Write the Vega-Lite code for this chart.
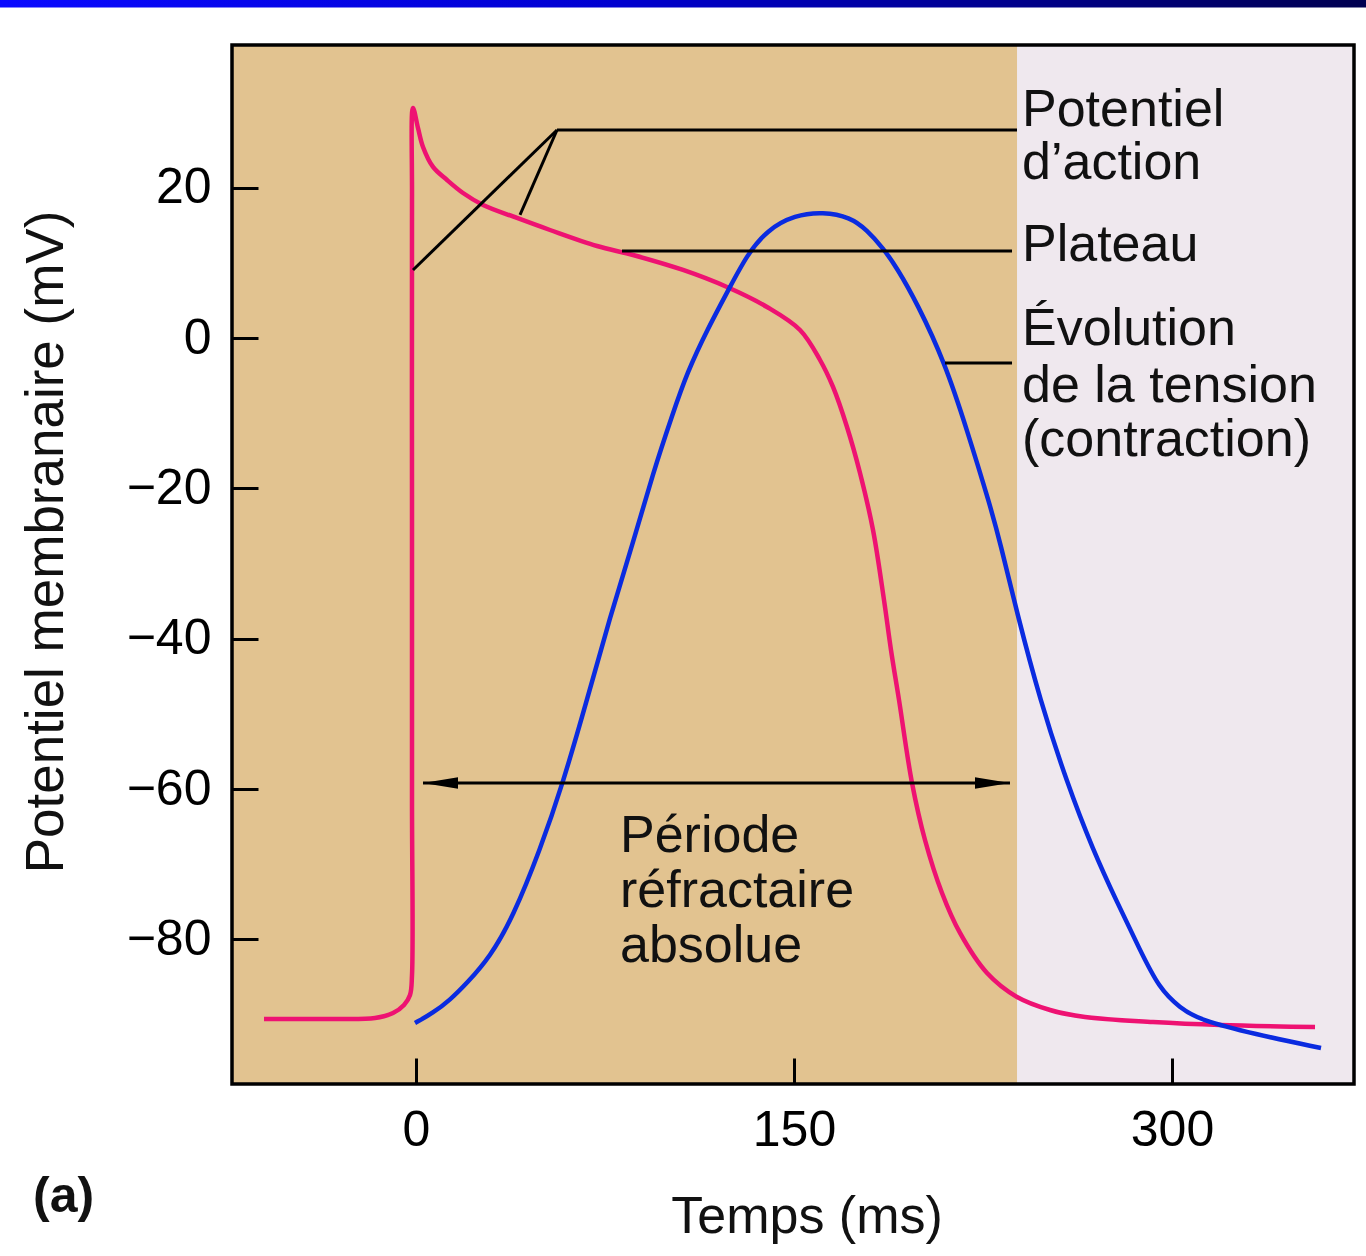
{
  "$schema": "https://vega.github.io/schema/vega-lite/v6.json",
  "width": 1122,
  "height": 1039,
  "autosize": {"type": "none"},
  "padding": {"left": 232, "top": 45, "right": 12, "bottom": 172},
  "background": "#ffffff",
  "config": {
    "view": {"fill": "#efe8ee", "stroke": null},
    "axis": {
      "labelFont": "Liberation Sans",
      "titleFont": "Liberation Sans",
      "labelColor": "#000000",
      "titleColor": "#111111",
      "titleFontWeight": "normal",
      "grid": false,
      "domain": false,
      "tickColor": "#000000",
      "tickWidth": 3,
      "tickSize": -26
    }
  },
  "datasets": {
    "zones": [
      {"zone": "fond", "t": -73.02, "t2": 238.5, "v": -99.25, "v2": 39.02}
    ],
    "potentiel": [
      {"t": -60.32, "v": -90.60}, {"t": -34.13, "v": -90.60}, {"t": -16.27, "v": -90.47},
      {"t": -9.13, "v": -89.81}, {"t": -4.76, "v": -88.74}, {"t": -2.38, "v": -87.41},
      {"t": -1.59, "v": -84.75}, {"t": -1.59, "v": -61.46}, {"t": -1.59, "v": -21.52},
      {"t": -1.59, "v": 18.39}, {"t": -1.19, "v": 30.64}, {"t": 0.79, "v": 27.97},
      {"t": 2.78, "v": 25.45}, {"t": 6.75, "v": 22.79}, {"t": 12.30, "v": 21.05},
      {"t": 18.65, "v": 19.32}, {"t": 26.59, "v": 17.73}, {"t": 40.08, "v": 16.00},
      {"t": 53.17, "v": 14.40}, {"t": 71.83, "v": 12.27}, {"t": 86.11, "v": 11.07},
      {"t": 105.95, "v": 9.08}, {"t": 123.41, "v": 6.81}, {"t": 139.29, "v": 4.15},
      {"t": 152.38, "v": 1.09}, {"t": 160.32, "v": -2.90}, {"t": 165.48, "v": -6.49},
      {"t": 171.03, "v": -11.82}, {"t": 176.19, "v": -17.94}, {"t": 181.35, "v": -25.52},
      {"t": 185.71, "v": -34.84}, {"t": 188.49, "v": -41.50}, {"t": 191.67, "v": -48.15},
      {"t": 196.83, "v": -59.19}, {"t": 201.98, "v": -66.78}, {"t": 208.73, "v": -73.83},
      {"t": 215.87, "v": -79.15}, {"t": 226.59, "v": -84.48}, {"t": 238.49, "v": -87.67},
      {"t": 251.59, "v": -89.40}, {"t": 265.48, "v": -90.34}, {"t": 292.46, "v": -91.00},
      {"t": 319.05, "v": -91.40}, {"t": 356.75, "v": -91.67}
    ],
    "tension": [
      {"t": -0.40, "v": -91.13}, {"t": 6.75, "v": -89.80}, {"t": 13.49, "v": -88.07},
      {"t": 20.24, "v": -85.81}, {"t": 29.37, "v": -82.35}, {"t": 38.49, "v": -77.02},
      {"t": 49.21, "v": -68.11}, {"t": 58.33, "v": -59.19}, {"t": 67.86, "v": -48.14},
      {"t": 76.98, "v": -37.09}, {"t": 86.11, "v": -27.24}, {"t": 94.05, "v": -17.93},
      {"t": 101.98, "v": -9.94}, {"t": 107.54, "v": -4.62}, {"t": 115.48, "v": 1.10},
      {"t": 124.60, "v": 6.82}, {"t": 131.35, "v": 11.08}, {"t": 139.29, "v": 14.40},
      {"t": 150.40, "v": 16.40}, {"t": 161.51, "v": 16.80}, {"t": 172.22, "v": 16.13},
      {"t": 178.97, "v": 14.40}, {"t": 185.32, "v": 12.01}, {"t": 190.87, "v": 9.35},
      {"t": 198.81, "v": 4.69}, {"t": 209.92, "v": -3.30}, {"t": 218.65, "v": -12.21},
      {"t": 227.78, "v": -22.20}, {"t": 231.75, "v": -27.12}, {"t": 238.49, "v": -36.57},
      {"t": 247.62, "v": -48.14}, {"t": 258.33, "v": -59.19}, {"t": 268.65, "v": -68.11},
      {"t": 278.17, "v": -75.04}, {"t": 287.30, "v": -81.42}, {"t": 294.84, "v": -86.48},
      {"t": 303.17, "v": -89.14}, {"t": 311.11, "v": -90.74}, {"t": 332.54, "v": -92.60},
      {"t": 359.13, "v": -94.46}
    ],
    "reperes": [
      {"t": 55.95, "v": 27.71, "t2": -1.19, "v2": 9.08},
      {"t": 55.95, "v": 27.71, "t2": 41.27, "v2": 16.40},
      {"t": 55.95, "v": 27.71, "t2": 238.49, "v2": 27.71},
      {"t": 81.75, "v": 11.61, "t2": 236.51, "v2": 11.61},
      {"t": 209.92, "v": -3.30, "t2": 236.51, "v2": -3.30},
      {"t": 2.78, "v": -59.19, "t2": 235.71, "v2": -59.19}
    ],
    "fleches": [
      {"t": 9.72, "v": -59.19, "sens": "gauche"},
      {"t": 228.77, "v": -59.19, "sens": "droite"}
    ],
    "textes": [
      {"t": 240.48, "v": 28.24, "texte": "Potentiel"},
      {"t": 240.48, "v": 21.19, "texte": "d’action"},
      {"t": 240.48, "v": 10.21, "texte": "Plateau"},
      {"t": 240.48, "v": -0.90, "texte": "Évolution"},
      {"t": 240.48, "v": -8.49, "texte": "de la tension"},
      {"t": 240.48, "v": -15.68, "texte": "(contraction)"},
      {"t": 80.95, "v": -68.38, "texte": "Période"},
      {"t": 80.95, "v": -75.70, "texte": "réfractaire"},
      {"t": 80.95, "v": -83.02, "texte": "absolue"}
    ],
    "panneau": [
      {"t": -151.98, "v": -116.29, "texte": "(a)"}
    ],
    "bandeau": [
      {"t": -165.1, "t2": 377.0, "v": 44.0, "v2": 45.3}
    ],
    "cadre": [
      {"t": -73.02, "t2": 372.22, "v": -99.25, "v2": 39.02}
    ]
  },
  "encoding": {
    "x": {
      "field": "t",
      "type": "quantitative",
      "scale": {"domain": [-73.02, 372.22], "nice": false, "zero": false},
      "axis": {
        "values": [0, 150, 300],
        "title": "Temps (ms)",
        "zindex": 2,
        "labelFontSize": 50,
        "labelPadding": 47.5,
        "labelFlush": false,
        "titleFontSize": 52,
        "titleX": 574.5,
        "titleY": 148,
        "titleAlign": "center",
        "titleBaseline": "alphabetic"
      }
    },
    "y": {
      "field": "v",
      "type": "quantitative",
      "scale": {"domain": [-99.25, 39.02], "nice": false, "zero": false},
      "axis": {
        "values": [20, 0, -20, -40, -60, -80],
        "title": "Potentiel membranaire (mV)",
        "zindex": 2,
        "labelFontSize": 50,
        "labelPadding": 47,
        "labelFlush": false,
        "titleFontSize": 53,
        "titleX": -170,
        "titleY": 496.5,
        "titleAngle": 270,
        "titleAlign": "center",
        "titleBaseline": "alphabetic"
      }
    }
  },
  "layer": [
    {
      "data": {"name": "zones"},
      "mark": {"type": "rect", "fill": "#e2c390", "strokeWidth": 0},
      "encoding": {"x2": {"field": "t2"}, "y2": {"field": "v2"}}
    },
    {
      "data": {"name": "potentiel"},
      "mark": {"type": "line", "color": "#ee1272", "strokeWidth": 4.5, "interpolate": "catmull-rom"},
      "encoding": {"order": {"value": null}}
    },
    {
      "data": {"name": "tension"},
      "mark": {"type": "line", "color": "#0a2be0", "strokeWidth": 4.5, "interpolate": "basis"},
      "encoding": {"order": {"value": null}}
    },
    {
      "data": {"name": "reperes"},
      "mark": {"type": "rule", "color": "#000000", "strokeWidth": 3},
      "encoding": {"x2": {"field": "t2"}, "y2": {"field": "v2"}}
    },
    {
      "data": {"name": "fleches"},
      "mark": {"type": "point", "filled": true, "color": "#000000", "opacity": 1, "size": 1225, "strokeWidth": 0},
      "encoding": {
        "shape": {
          "field": "sens",
          "type": "nominal",
          "scale": {"domain": ["gauche", "droite"], "range": ["M 1 -0.33 L -1 0 L 1 0.33 Z", "M -1 -0.33 L 1 0 L -1 0.33 Z"]},
          "legend": null
        }
      }
    },
    {
      "data": {"name": "textes"},
      "mark": {"type": "text", "font": "Liberation Sans", "fontSize": 52, "align": "left", "baseline": "alphabetic", "color": "#111111"},
      "encoding": {"text": {"field": "texte", "type": "nominal"}}
    },
    {
      "data": {"name": "panneau"},
      "mark": {"type": "text", "font": "Liberation Sans", "fontSize": 50, "fontWeight": "bold", "align": "left", "baseline": "alphabetic", "color": "#111111"},
      "encoding": {"text": {"field": "texte", "type": "nominal"}}
    },
    {
      "data": {"name": "bandeau"},
      "mark": {
        "type": "rect",
        "strokeWidth": 0,
        "fill": {
          "gradient": "linear",
          "x1": 0, "y1": 0, "x2": 1, "y2": 0,
          "stops": [
            {"offset": 0, "color": "#0a0aff"},
            {"offset": 0.45, "color": "#0000d0"},
            {"offset": 1, "color": "#000050"}
          ]
        }
      },
      "encoding": {"x2": {"field": "t2"}, "y2": {"field": "v2"}}
    },
    {
      "data": {"name": "cadre"},
      "mark": {"type": "rect", "filled": false, "stroke": "#000000", "strokeWidth": 3.5, "fill": null},
      "encoding": {"x2": {"field": "t2"}, "y2": {"field": "v2"}}
    }
  ]
}
